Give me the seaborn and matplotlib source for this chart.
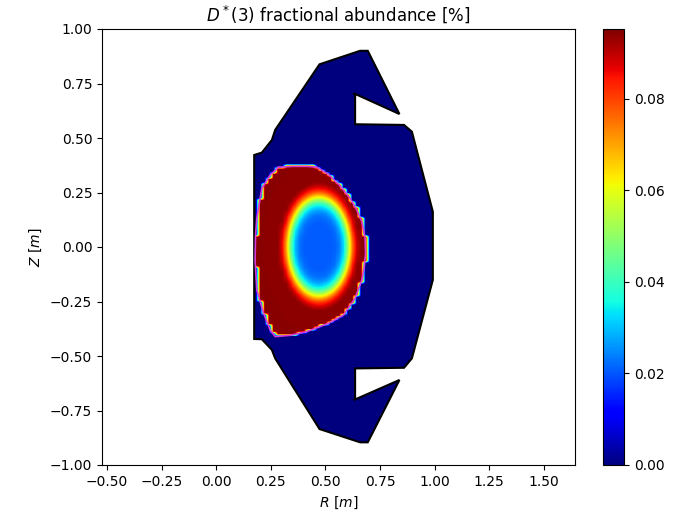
import numpy as np
import matplotlib
matplotlib.use("Agg")
import matplotlib.pyplot as plt
from matplotlib.path import Path
from matplotlib.patches import Polygon
from matplotlib.colors import ListedColormap
import seaborn as sns

# vessel wall (R, Z) in m
wall_r = [0.174, 0.209, 0.255, 0.270, 0.473, 0.659, 0.694, 0.839, 0.630, 0.636, 0.636, 0.860, 0.896, 0.992,
          0.992, 0.896, 0.860, 0.636, 0.636, 0.630, 0.839, 0.694, 0.659, 0.473, 0.270, 0.255, 0.209, 0.174]
wall_z = [0.422, 0.433, 0.491, 0.537, 0.838, 0.900, 0.900, 0.610, 0.705, 0.697, 0.563, 0.560, 0.529, 0.162,
          -0.151, -0.511, -0.554, -0.557, -0.695, -0.702, -0.610, -0.896, -0.896, -0.835, -0.511, -0.472, -0.423, -0.422]

# plasma boundary (R, Z) in m
sep_r = [0.285, 0.350, 0.420, 0.461, 0.514, 0.568, 0.613, 0.644, 0.667, 0.682, 0.684, 0.678, 0.667, 0.636,
         0.583, 0.514, 0.415, 0.339, 0.270, 0.247, 0.217, 0.186, 0.178, 0.180, 0.186, 0.209, 0.247, 0.285]
sep_z = [0.366, 0.370, 0.370, 0.366, 0.333, 0.280, 0.223, 0.170, 0.116, 0.040, -0.030, -0.090, -0.151, -0.235,
         -0.312, -0.350, -0.388, -0.405, -0.411, -0.381, -0.304, -0.197, -0.060, 0.050, 0.132, 0.269, 0.330, 0.366]

# abundance profile against elliptical radius around the core
prof_r = [0.0, 0.5, 0.65, 0.75, 0.85, 0.93, 1.0, 1.07, 1.15, 1.3, 5.0]
prof_v = [0.0205, 0.0208, 0.023, 0.028, 0.036, 0.048, 0.060, 0.0715, 0.083, 0.094, 0.0953]
core_r0, core_z0 = 0.467, 0.0
core_a, core_b = 0.14, 0.225
vmax = 0.0953

# grid
dr, dz = 0.02, 0.012
R = np.arange(0.14, 1.02, dr)
Z = np.arange(-0.94, 0.94, dz)
RR, ZZ = np.meshgrid(R, Z)
rho = np.sqrt(((RR - core_r0) / core_a) ** 2 + ((ZZ - core_z0) / core_b) ** 2)
field = np.interp(rho, prof_r, prof_v)
inside = Path(np.column_stack([sep_r, sep_z])).contains_points(
    np.column_stack([RR.ravel(), ZZ.ravel()])).reshape(RR.shape)
field = np.where(inside, field, 0.0)

cmap = ListedColormap(sns.mpl_palette("jet", 256))

fig = plt.figure(figsize=(6.73, 5.29), dpi=100)
ax = fig.add_axes([102 / 673, 64 / 529, 473 / 673, 436 / 529])
cax = fig.add_axes([603 / 673, 64 / 529, 21 / 673, 436 / 529])

im = ax.imshow(field, origin="lower",
               extent=[R[0] - dr / 2, R[-1] + dr / 2, Z[0] - dz / 2, Z[-1] + dz / 2],
               cmap=cmap, vmin=0, vmax=vmax, interpolation="bilinear",
               interpolation_stage="data", aspect="auto")
wall = Polygon(np.column_stack([wall_r, wall_z]), closed=True, facecolor="none", edgecolor="black", lw=1.5)
ax.add_patch(wall)
im.set_clip_path(wall)
ax.plot(sep_r, sep_z, color="#d83ad8", lw=1.2)

ax.set_xlim(-0.523, 1.643)
ax.set_ylim(-1, 1)
ax.set_xticks(np.arange(-0.5, 1.51, 0.25))
ax.set_yticks(np.arange(-1.0, 1.01, 0.25))
ax.set_xlabel(r"$R\ [m]$")
ax.set_ylabel(r"$Z\ [m]$")
ax.set_title(r"$D^*(3)$ fractional abundance [%]")

cb = fig.colorbar(im, cax=cax)
cb.set_ticks([0.0, 0.02, 0.04, 0.06, 0.08])

fig.savefig("out.png", dpi=100)
